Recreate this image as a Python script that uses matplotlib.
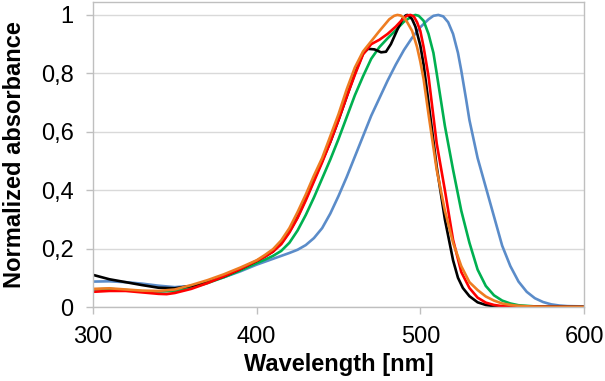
import numpy as np
import matplotlib
matplotlib.use("Agg")
import matplotlib.pyplot as plt

# wavelength [nm] and normalized absorbance per sample
wl_blue = [300, 310, 320, 330, 340, 350, 360, 370, 380, 390, 400, 410, 420, 425, 430,
           435, 440, 445, 450, 455, 460, 465, 470, 475, 480, 485, 490, 495, 500, 505,
           508, 511, 514, 517, 520, 523, 525, 528, 530, 535, 540, 545, 550, 555, 560,
           565, 570, 575, 580, 585, 590, 600]
abs_blue = [0.087, 0.088, 0.085, 0.080, 0.073, 0.068, 0.072, 0.085, 0.102, 0.122,
            0.145, 0.165, 0.185, 0.196, 0.212, 0.236, 0.270, 0.320, 0.380, 0.445,
            0.515, 0.585, 0.655, 0.715, 0.775, 0.830, 0.880, 0.922, 0.958, 0.985,
            0.997, 1.000, 0.995, 0.975, 0.935, 0.870, 0.810, 0.710, 0.640, 0.510,
            0.410, 0.310, 0.210, 0.140, 0.087, 0.052, 0.030, 0.017, 0.009, 0.005,
            0.003, 0.002]

wl_green = [300, 310, 320, 330, 340, 350, 360, 370, 380, 390, 400, 405, 410, 415, 420,
            425, 430, 435, 440, 445, 450, 455, 460, 465, 470, 475, 480, 485, 490, 495,
            497, 499, 502, 505, 508, 510, 515, 520, 525, 530, 535, 540, 545, 550, 555,
            560, 570, 580, 600]
abs_green = [0.060, 0.062, 0.058, 0.054, 0.053, 0.055, 0.066, 0.082, 0.102, 0.125,
             0.150, 0.162, 0.175, 0.192, 0.220, 0.262, 0.315, 0.375, 0.440, 0.505,
             0.575, 0.650, 0.725, 0.790, 0.850, 0.890, 0.920, 0.948, 0.977, 0.996,
             1.000, 0.997, 0.980, 0.935, 0.870, 0.800, 0.620, 0.470, 0.330, 0.220,
             0.128, 0.072, 0.040, 0.022, 0.012, 0.006, 0.002, 0.001, 0.000]

wl_black = [300, 310, 320, 330, 340, 350, 360, 370, 380, 390, 400, 405, 410, 415, 420,
            425, 430, 435, 440, 445, 450, 455, 460, 465, 468, 472, 476, 479, 482, 486,
            489, 491, 492, 493, 495, 497, 500, 502, 505, 510, 515, 520, 523, 526, 530,
            535, 540, 545, 550, 600]
abs_black = [0.110, 0.095, 0.085, 0.075, 0.066, 0.064, 0.072, 0.085, 0.105, 0.130,
             0.158, 0.173, 0.190, 0.218, 0.258, 0.308, 0.370, 0.435, 0.500, 0.565,
             0.640, 0.720, 0.800, 0.868, 0.884, 0.882, 0.872, 0.874, 0.900, 0.950,
             0.985, 0.998, 1.000, 0.998, 0.985, 0.960, 0.895, 0.830, 0.700, 0.480,
             0.300, 0.160, 0.100, 0.065, 0.037, 0.016, 0.007, 0.003, 0.001, 0.000]

wl_red = [300, 310, 320, 330, 340, 345, 350, 360, 370, 380, 390, 400, 405, 410, 415,
          420, 425, 430, 435, 440, 445, 450, 455, 460, 465, 470, 475, 480, 485, 490,
          492, 494, 496, 498, 500, 502, 505, 510, 515, 520, 525, 530, 535, 540, 545,
          550, 560, 600]
abs_red = [0.052, 0.055, 0.055, 0.050, 0.045, 0.044, 0.048, 0.062, 0.082, 0.105,
           0.130, 0.158, 0.172, 0.190, 0.215, 0.255, 0.305, 0.365, 0.430, 0.495,
           0.565, 0.640, 0.720, 0.795, 0.865, 0.900, 0.915, 0.935, 0.960, 0.990,
           0.998, 1.000, 0.995, 0.975, 0.945, 0.890, 0.790, 0.560, 0.400, 0.230,
           0.120, 0.065, 0.032, 0.015, 0.007, 0.003, 0.001, 0.000]

wl_orange = [300, 310, 320, 330, 340, 350, 360, 370, 380, 390, 400, 405, 410, 415, 420,
             425, 430, 435, 440, 445, 450, 455, 460, 465, 470, 475, 478, 481, 484, 486,
             488, 490, 492, 495, 498, 500, 502, 505, 510, 515, 520, 525, 530, 535, 540,
             545, 550, 555, 560, 570, 580, 600]
abs_orange = [0.062, 0.064, 0.060, 0.056, 0.055, 0.060, 0.075, 0.092, 0.112, 0.135,
              0.160, 0.178, 0.198, 0.228, 0.270, 0.325, 0.385, 0.450, 0.510, 0.585,
              0.660, 0.745, 0.820, 0.875, 0.910, 0.945, 0.965, 0.985, 0.997, 1.000,
              0.998, 0.990, 0.975, 0.945, 0.890, 0.840, 0.780, 0.660, 0.470, 0.330,
              0.220, 0.140, 0.085, 0.058, 0.036, 0.022, 0.012, 0.007, 0.004, 0.001,
              0.000, 0.000]

yticks = [0, 0.2, 0.4, 0.6, 0.8, 1.0]
ytick_labels = ["0", "0,2", "0,4", "0,6", "0,8", "1"]
xticks = [300, 400, 500, 600]

plt.rcParams["font.family"] = ["Liberation Sans", "DejaVu Sans"]
GRID = "#d9d9d9"
AXIS = "#bfbfbf"

fig = plt.figure(figsize=(6.05, 3.81), dpi=100)
ax = fig.add_axes([93 / 605, 1 - 307 / 381, (584 - 93) / 605, (307 - 1.5) / 381])

series = [(wl_blue, abs_blue, "#5b8cc9"),
          (wl_green, abs_green, "#00b050"),
          (wl_black, abs_black, "#000000"),
          (wl_red, abs_red, "#ff0000"),
          (wl_orange, abs_orange, "#ee7d22")]
for wl, a, c in series:
    ax.plot(wl, a, color=c, lw=1.9, solid_joinstyle="round", solid_capstyle="round")

ax.set_xlim(300, 600)
ax.set_ylim(0, 1.046)
ax.set_xticks(xticks)
ax.set_yticks(yticks)
ax.set_yticklabels(ytick_labels)
ax.grid(axis="y", color=GRID, lw=1.0)
ax.set_axisbelow(True)
for sp in ax.spines.values():
    sp.set_color(AXIS)
    sp.set_linewidth(1.0)
ax.tick_params(axis="both", direction="out", length=5, width=1.0, color=AXIS,
               labelsize=17, labelcolor="black")
ax.tick_params(axis="y", pad=9)
ax.tick_params(axis="x", pad=9)

ax.set_xlabel("Wavelength [nm]", fontsize=17, fontweight="bold")
ax.set_ylabel("Normalized absorbance", fontsize=17, fontweight="bold")
ax.xaxis.set_label_coords(0.5, -46 / (307 - 1.5))
ax.yaxis.set_label_coords(-67 / (584 - 93), 0.5)

fig.savefig("out.png", dpi=100)
